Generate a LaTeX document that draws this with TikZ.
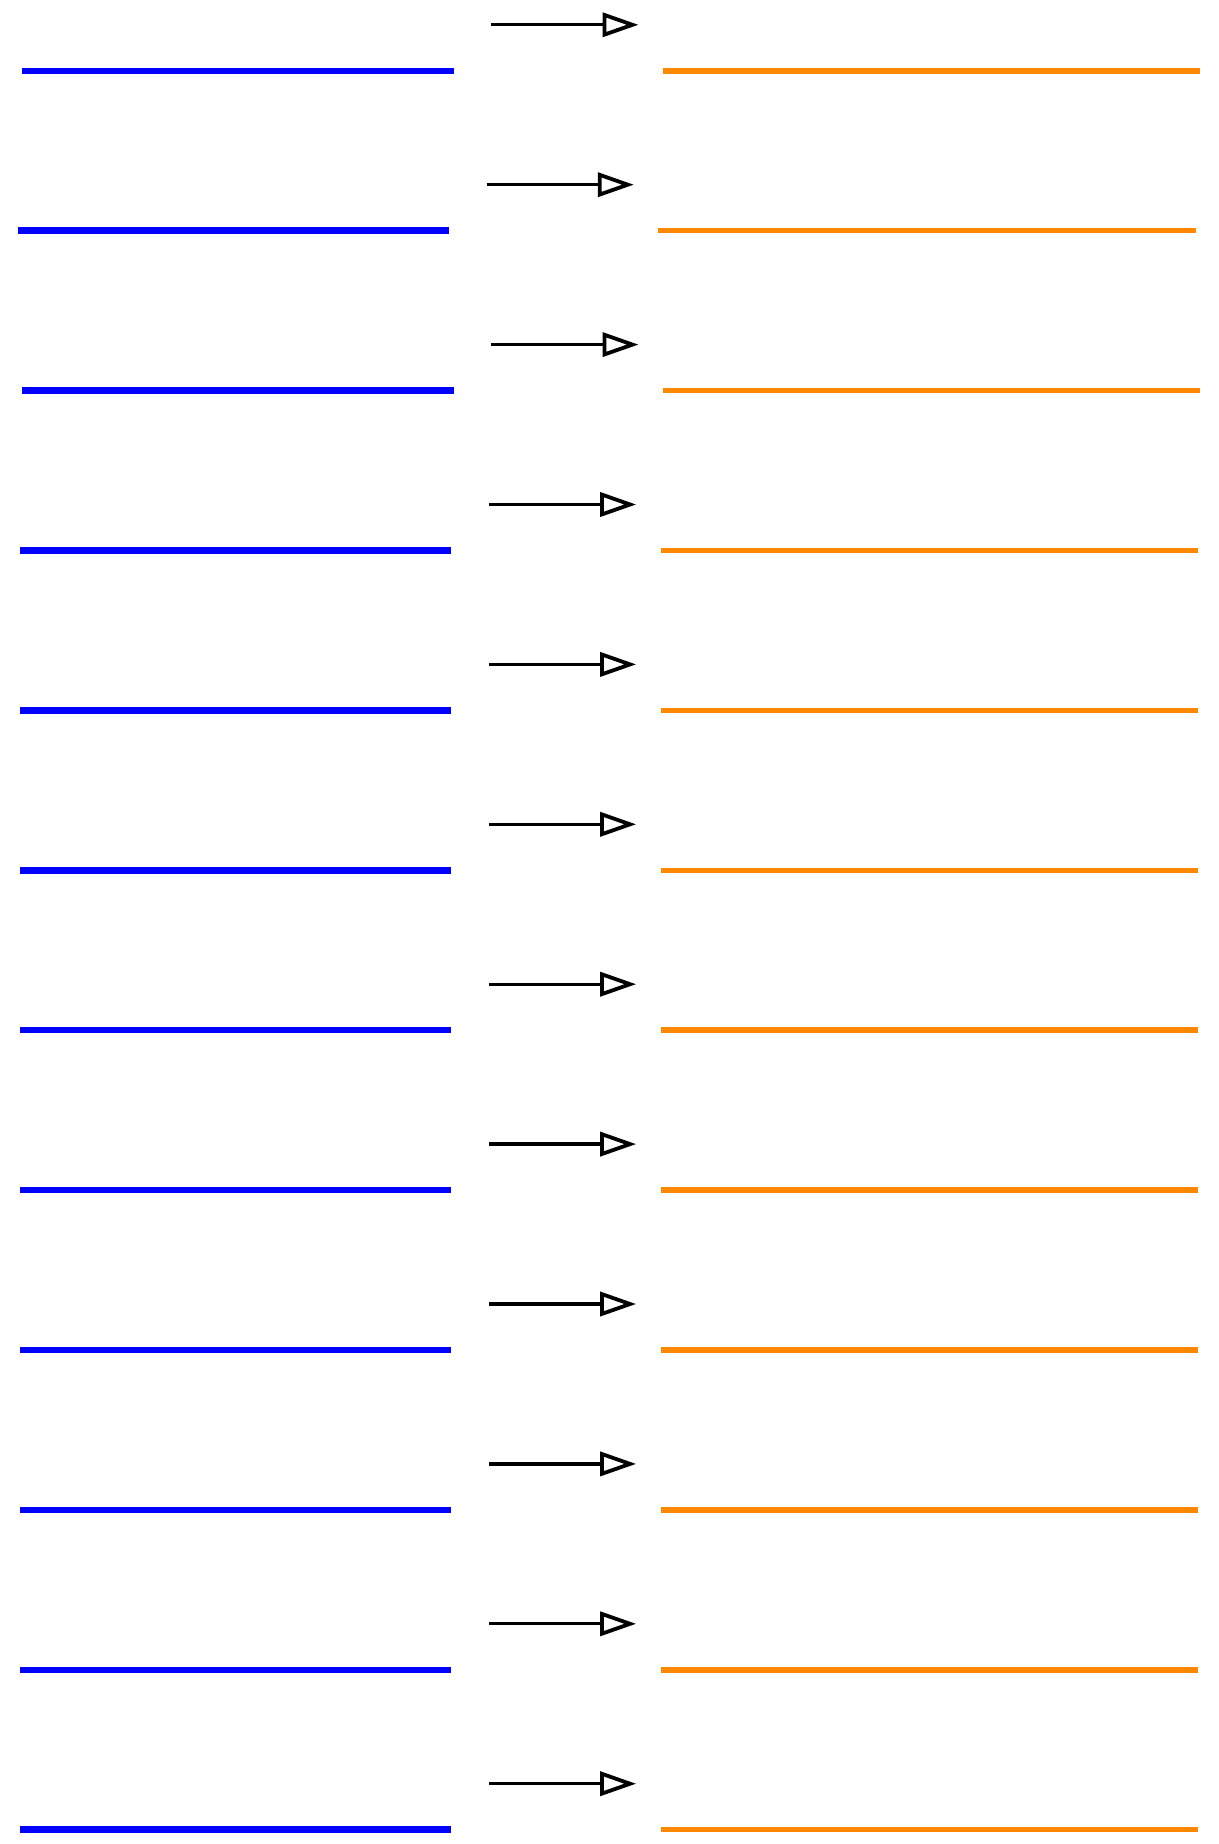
\documentclass[tikz,border=0pt]{standalone}
\usetikzlibrary{arrows.meta}
\definecolor{myblue}{RGB}{0,0,255}
\definecolor{myorange}{RGB}{255,136,0}
\begin{document}
\begin{tikzpicture}[x=1pt,y=-1pt,
  blueline/.style={myblue,line width=6.5pt},
  orangeline/.style={myorange,line width=5.5pt},
  arr/.style={black,line width=3.3pt,-{Triangle[open,length=36pt,width=24pt,line width=3.8pt]}}]
\useasboundingbox (0,0) rectangle (1218,1844);
\foreach \i/\dx in {0/0,1/-4.7,2/0,3/-2.4,4/-2.4,5/-2.4,6/-2.4,7/-2.4,8/-2.4,9/-2.4,10/-2.4,11/-2.4}{
  \pgfmathsetmacro\yy{70.8+159.9*\i}
  \pgfmathsetmacro\ya{\yy-46}
  \coordinate (bl\i) at (22.3+\dx,\yy);
  \coordinate (br\i) at (453.8+\dx,\yy);
  \coordinate (ol\i) at (663+\dx,\yy);
  \coordinate (or\i) at (1200.4+\dx,\yy);
  \coordinate (as\i) at (491.4+\dx,\ya);
  \coordinate (ae\i) at (638.5+\dx,\ya);
  \draw[blueline] (bl\i) -- (br\i);
  \draw[orangeline] (ol\i) -- (or\i);
  \draw[arr] (as\i) -- (ae\i);
}
\end{tikzpicture}
\end{document}
